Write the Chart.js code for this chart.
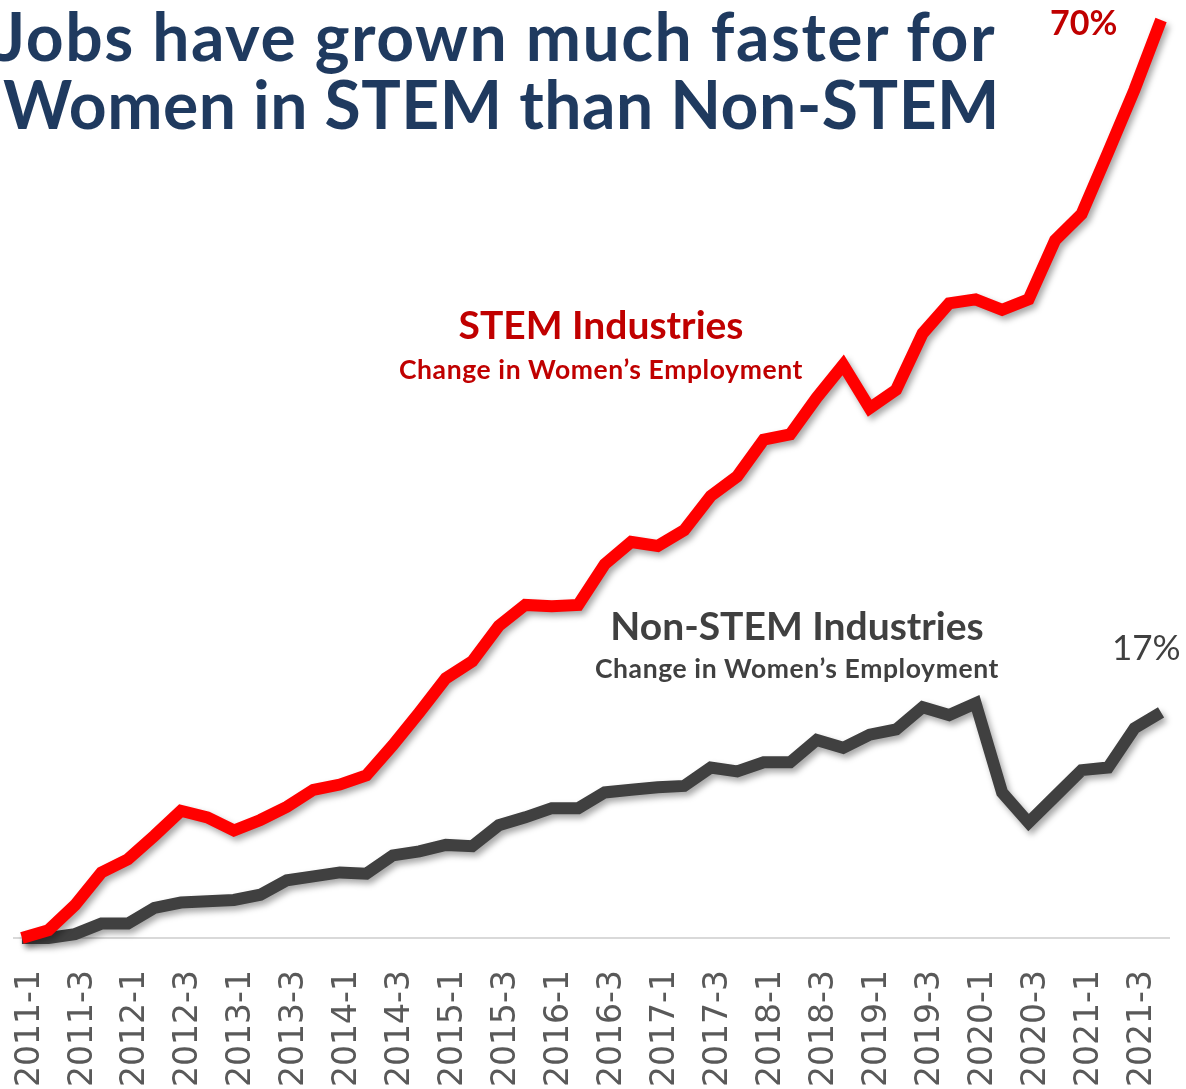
<!DOCTYPE html>
<html>
<head>
<meta charset="utf-8">
<script src="https://cdn.jsdelivr.net/npm/chart.js@4.4.1/dist/chart.umd.min.js"></script>
<style>
  html, body { margin: 0; padding: 0; background: #fff; overflow: hidden; }
  #wrap { position: relative; width: 1186px; height: 1089px; }
  #chart { position: absolute; left: 0; top: 0; }
  .txt { position: absolute; white-space: nowrap; line-height: 1; font-family: Lato, "Open Sans", sans-serif; }
  .title { color: #1F3A5F; font-weight: 700; font-size: 66px; }
  .ctr { transform: translateX(-50%); font-weight: 700; }
  .red { color: #C00000; }
  .grey { color: #404040; }
  .big { font-size: 39px; }
  .small { font-size: 26.5px; letter-spacing: 0.6px; }
</style>
</head>
<body>
<div id="wrap">
  <canvas id="chart" width="1186" height="1089"></canvas>
  <div class="txt title" style="left:-3px;top:3px;letter-spacing:1.5px">Jobs have grown much faster for</div>
  <div class="txt title" style="left:3px;top:71px;letter-spacing:0.5px">Women in STEM than Non-STEM</div>
  <div class="txt ctr red big" style="left:601px;top:305px">STEM Industries</div>
  <div class="txt ctr red small" style="left:601px;top:356px">Change in Women’s Employment</div>
  <div class="txt ctr grey big" style="left:797px;top:606px">Non-STEM Industries</div>
  <div class="txt ctr grey small" style="left:797px;top:655px">Change in Women’s Employment</div>
  <div class="txt red" style="left:1050px;top:5px;font-size:34px;font-weight:700">70%</div>
  <div class="txt grey" style="left:1112px;top:629px;font-size:35px;font-weight:400">17%</div>
</div>
<script>
// quarters 2011-1 .. 2021-4
const quarters = [
  '2011-1','2011-2','2011-3','2011-4','2012-1','2012-2','2012-3','2012-4',
  '2013-1','2013-2','2013-3','2013-4','2014-1','2014-2','2014-3','2014-4',
  '2015-1','2015-2','2015-3','2015-4','2016-1','2016-2','2016-3','2016-4',
  '2017-1','2017-2','2017-3','2017-4','2018-1','2018-2','2018-3','2018-4',
  '2019-1','2019-2','2019-3','2019-4','2020-1','2020-2','2020-3','2020-4',
  '2021-1','2021-2','2021-3','2021-4'
];

// % change in women's employment since 2011-1
const stemPct = [
  0, 0.6, 2.5, 5.0, 6.0, 7.8, 9.7, 9.2, 8.2, 9.0, 10.0, 11.3,
  11.7, 12.4, 14.7, 17.2, 19.8, 21.1, 23.8, 25.4, 25.3, 25.4, 28.5, 30.2,
  29.9, 31.1, 33.7, 35.2, 38.0, 38.4, 41.2, 43.7, 40.4, 41.8, 46.1, 48.4,
  48.7, 47.9, 48.7, 53.2, 55.2, 59.9, 64.7, 70.0
];
const nonStemPct = [
  0, 0, 0.3, 1.1, 1.1, 2.3, 2.7, 2.8, 2.9, 3.3, 4.4, 4.7,
  5.0, 4.9, 6.3, 6.6, 7.1, 7.0, 8.6, 9.2, 9.9, 9.9, 11.1, 11.3,
  11.5, 11.6, 13.0, 12.7, 13.4, 13.4, 15.1, 14.5, 15.5, 15.9, 17.6, 17.0,
  17.9, 11.1, 8.8, 10.8, 12.8, 13.0, 16.0, 17.2
];

const toPts = arr => arr.map((v, i) => ({ x: i, y: v }));

// soft drop shadow under the lines
const lineShadow = {
  id: 'lineShadow',
  beforeDatasetDraw(chart) {
    const c = chart.ctx;
    c.save();
    c.shadowColor = 'rgba(0,0,0,0.35)';
    c.shadowBlur = 6;
    c.shadowOffsetX = 3;
    c.shadowOffsetY = 4;
  },
  afterDatasetDraw(chart) { chart.ctx.restore(); }
};

const lineStyle = { borderWidth: 12, pointRadius: 0, tension: 0, clip: false, borderJoinStyle: 'miter', borderCapStyle: 'butt' };

new Chart(document.getElementById('chart'), {
  type: 'line',
  data: {
    datasets: [
      { label: 'STEM Industries', data: toPts(stemPct), borderColor: '#FF0000', ...lineStyle },
      { label: 'Non-STEM Industries', data: toPts(nonStemPct), borderColor: '#404040', ...lineStyle }
    ]
  },
  options: {
    responsive: false,
    animation: false,
    devicePixelRatio: 1,
    layout: { padding: { left: 14, right: 17, top: 20, bottom: 0 } },
    plugins: { legend: { display: false }, tooltip: { enabled: false } },
    scales: {
      x: {
        type: 'linear', min: -0.3, max: 43.3,
        grid: { display: false, drawTicks: false },
        border: { display: true, color: '#D9D9D9', width: 2 },
        afterBuildTicks: s => { s.ticks = quarters.map((q, i) => ({ value: i })).filter(t => t.value % 2 === 0); },
        ticks: {
          autoSkip: false, maxRotation: 90, minRotation: 90, padding: 32, labelOffset: 8,
          color: '#595959', font: { family: 'DejaVu Sans', size: 33 },
          callback: v => quarters[v]
        },
        afterFit: s => { s.height = 151; s.paddingLeft = 0; s.paddingRight = 0; }
      },
      y: { display: false, min: 0, max: 70 }
    }
  },
  plugins: [lineShadow]
});
</script>
</body>
</html>
